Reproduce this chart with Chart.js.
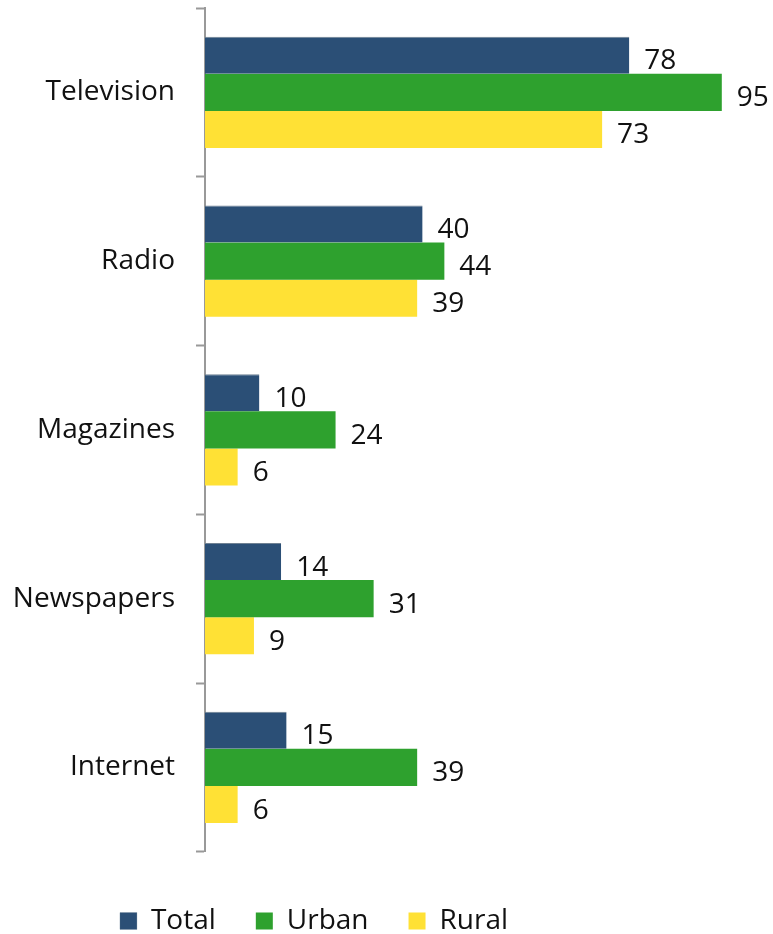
<!DOCTYPE html>
<html>
<head>
<meta charset="utf-8">
<script src="https://cdn.jsdelivr.net/npm/chart.js@4.4.1/dist/chart.umd.min.js"></script>
<style>
    html, body { margin: 0; padding: 0; background: #fff; }
    #wrap { width: 773px; height: 934px; }
</style>
</head>
<body>
<div id="wrap"><canvas id="mediaChart"></canvas></div>
<script>
// media usage by area (%)
const categories = ["Television", "Radio", "Magazines", "Newspapers", "Internet"];
const totalValues = [78, 40, 10, 14, 15];
const urbanValues = [95, 44, 24, 31, 39];
const ruralValues = [73, 39, 6, 9, 6];

const fontFamily = "'Open Sans', sans-serif";

// draws the number just past the end of each bar
const valueLabels = {
    id: "valueLabels",
    afterDatasetsDraw(chart) {
        const ctx = chart.ctx;
        ctx.save();
        ctx.font = "28px " + fontFamily;
        ctx.fillStyle = "#111";
        ctx.textAlign = "left";
        ctx.textBaseline = "middle";
        chart.data.datasets.forEach((ds, i) => {
            chart.getDatasetMeta(i).data.forEach((bar, j) => {
                ctx.fillText(String(ds.data[j]), bar.x + 15, bar.y + 6);
            });
        });
        ctx.restore();
    }
};

// legend in the original sits left of centre, so narrow its box
const legendShift = {
    id: "legendShift",
    afterLayout(chart) {
        const lg = chart.legend;
        lg.left = 0;
        lg.right = 628;
        lg.width = 628;
    }
};

new Chart(document.getElementById("mediaChart"), {
    type: "bar",
    data: {
        labels: categories,
        datasets: [
            { label: "Total", data: totalValues, backgroundColor: "#2B4F76", borderColor: "#6f8193", borderWidth: { top: 1 } },
            { label: "Urban", data: urbanValues, backgroundColor: "#2EA12E" },
            { label: "Rural", data: ruralValues, backgroundColor: "#FFE135" }
        ]
    },
    options: {
        indexAxis: "y",
        responsive: true,
        maintainAspectRatio: false,
        animation: false,
        layout: { padding: { top: 8, right: 24, left: 0, bottom: -11 } },
        datasets: {
            bar: { barPercentage: 1, categoryPercentage: 0.66 }
        },
        plugins: {
            legend: {
                position: "bottom",
                title: { display: true, text: " ", font: { size: 1 }, padding: { top: 14, bottom: 0 } },
                labels: {
                    boxWidth: 17,
                    boxHeight: 17,
                    padding: 40,
                    color: "#111",
                    font: { family: fontFamily, size: 28 }
                }
            },
            tooltip: { enabled: false }
        },
        scales: {
            x: {
                display: false,
                min: 0,
                max: 100
            },
            y: {
                offset: true,
                afterFit(scale) {
                    scale.width = 205;
                    scale.paddingTop = 0;
                    scale.paddingBottom = 0;
                },
                grid: {
                    offset: true,
                    drawOnChartArea: false,
                    tickLength: 9,
                    tickWidth: 2,
                    tickColor: "#999"
                },
                border: { color: "#999", width: 2 },
                ticks: {
                    padding: 21,
                    color: "#111",
                    font: { family: fontFamily, size: 28 }
                }
            }
        }
    },
    plugins: [valueLabels, legendShift]
});
</script>
</body>
</html>
